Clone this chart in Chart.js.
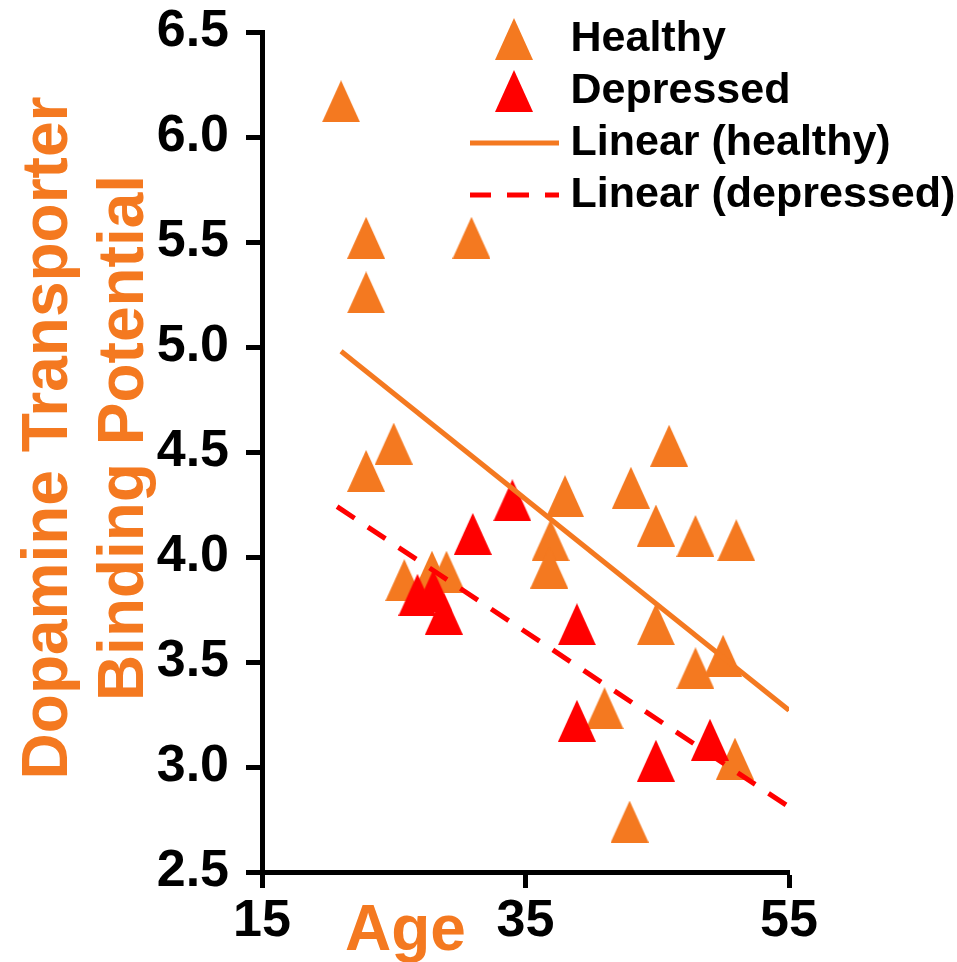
<!DOCTYPE html>
<html>
<head>
<meta charset="utf-8">
<script src="https://cdn.jsdelivr.net/npm/chart.js@4.4.1/dist/chart.umd.min.js"></script>
<style>
  html, body { margin: 0; padding: 0; background: #ffffff; }
  #wrap { width: 957px; height: 962px; }
</style>
</head>
<body>
<div id="wrap"><canvas id="c" width="957" height="962"></canvas></div>
<script>
// ---- data ----
const healthyAge = [21, 22.9, 22.9, 30.9, 25, 22.9, 38, 43, 45.9, 44.9, 47.9, 51, 36.9, 36.8, 25.8, 27.9, 29, 44.9, 47.9, 50, 41, 50.9, 42.9];
const healthyDAT = [6.17, 5.52, 5.26, 5.52, 4.54, 4.41, 4.29, 4.33, 4.53, 4.15, 4.10, 4.08, 4.08, 3.95, 3.89, 3.93, 3.93, 3.68, 3.47, 3.53, 3.28, 3.04, 2.74];
const depressedAge = [34, 31, 26.8, 28, 28.8, 38.9, 38.9, 49, 44.9];
const depressedDAT = [4.27, 4.11, 3.82, 3.84, 3.73, 3.68, 3.22, 3.13, 3.03];
const healthyTrendAge = [21, 55];
const healthyTrendDAT = [4.98, 3.27];
const depressedTrendAge = [20.7, 55];
const depressedTrendDAT = [4.24, 2.81];
const xTicks = [15, 35, 55];
const yTicks = [2.5, 3.0, 3.5, 4.0, 4.5, 5.0, 5.5, 6.0, 6.5];
const seriesLabels = ['Healthy', 'Depressed', 'Linear (healthy)', 'Linear (depressed)'];
const yTitleLines = ['Dopamine Transporter', 'Binding Potential'];
const xTitle = 'Age';

// ---- styles ----
const ORANGE = '#F47920';
const RED = '#FF0000';
const FONT = '"Liberation Sans", Arial, Helvetica, sans-serif';
Chart.defaults.font.family = FONT;

function triangleMarker(color) {
  const c = document.createElement('canvas');
  c.width = 38; c.height = 42;
  const g = c.getContext('2d');
  g.fillStyle = color;
  g.beginPath();
  g.moveTo(19, 0); g.lineTo(38, 42); g.lineTo(0, 42);
  g.closePath(); g.fill();
  return c;
}
function lineMarker(color, dash) {
  const c = document.createElement('canvas');
  c.width = 90; c.height = 6;
  const g = c.getContext('2d');
  g.strokeStyle = color; g.lineWidth = 5; g.lineCap = 'butt';
  g.setLineDash(dash);
  g.beginPath(); g.moveTo(0, 3); g.lineTo(90, 3); g.stroke();
  return c;
}
const pts = (xs, ys) => xs.map((x, i) => ({x: x, y: ys[i]}));

const titlesPlugin = {
  id: 'axisTitles',
  afterLayout(chart) {
    const lg = chart.legend;
    if (lg) {
      lg.left = chart.chartArea.left + 208;
      lg.top = 8.5;
      lg.right = chart.width;
      lg.bottom = chart.height;
    }
  },
  afterDraw(chart) {
    const ctx = chart.ctx;
    ctx.save();
    ctx.fillStyle = ORANGE;
    ctx.font = 'bold 64px ' + FONT;
    ctx.textBaseline = 'alphabetic';
    ctx.save();
    ctx.translate(67, 438);
    ctx.rotate(-Math.PI / 2);
    ctx.textAlign = 'center';
    yTitleLines.forEach((t, i) => ctx.fillText(t, 0, i * 76));
    ctx.restore();
    ctx.textAlign = 'left';
    ctx.fillText(xTitle, 345, 950);
    ctx.restore();
  }
};

new Chart(document.getElementById('c'), {
  type: 'scatter',
  data: {
    datasets: [
      { label: seriesLabels[0], data: pts(healthyAge, healthyDAT), pointStyle: triangleMarker(ORANGE),
        pointRadius: 20, backgroundColor: ORANGE, borderColor: ORANGE, order: 4 },
      { label: seriesLabels[1], data: pts(depressedAge, depressedDAT), pointStyle: triangleMarker(RED),
        pointRadius: 20, backgroundColor: RED, borderColor: RED, order: 3 },
      { type: 'line', label: seriesLabels[2], data: pts(healthyTrendAge, healthyTrendDAT), showLine: true,
        borderColor: ORANGE, borderWidth: 5, pointRadius: 0, pointStyle: lineMarker(ORANGE, []),
        fill: false, tension: 0, order: 2 },
      { type: 'line', label: seriesLabels[3], data: pts(depressedTrendAge, depressedTrendDAT), showLine: true,
        borderColor: RED, borderWidth: 5, borderDash: [21, 16], pointRadius: 0, pointStyle: lineMarker(RED, [22, 16]),
        fill: false, tension: 0, order: 1 }
    ]
  },
  options: {
    responsive: false,
    devicePixelRatio: 1,
    animation: false,
    events: [],
    layout: { padding: { top: 32, right: 168, bottom: 0, left: 0 } },
    plugins: {
      tooltip: { enabled: false },
      legend: {
        position: 'chartArea',
        fullSize: false,
        align: 'start',
        labels: {
          usePointStyle: true,
          pointStyleWidth: 70,
          padding: 9,
          color: '#000000',
          font: { size: 43, weight: 'bold' },
          sort: (a, b) => a.datasetIndex - b.datasetIndex
        }
      }
    },
    scales: {
      x: {
        type: 'linear', min: 15, max: 55,
        afterBuildTicks: (s) => { s.ticks = xTicks.map(v => ({value: v})); },
        afterFit: (s) => { s.height = 90; s.paddingLeft = 0; s.paddingRight = 0; },
        ticks: { color: '#000', font: { size: 52, weight: 'bold' }, padding: 2, maxRotation: 0 },
        grid: { display: true, drawOnChartArea: false, drawTicks: true, tickLength: 16, tickWidth: 5, tickColor: '#000' },
        border: { display: true, color: '#000', width: 5 }
      },
      y: {
        type: 'linear', min: 2.5, max: 6.5,
        afterBuildTicks: (s) => { s.ticks = yTicks.map(v => ({value: v})); },
        afterFit: (s) => { s.width = 262; s.paddingTop = 0; s.paddingBottom = 0; },
        ticks: { color: '#000', font: { size: 52, weight: 'bold' }, padding: 17,
                 callback: (v) => Number(v).toFixed(1) },
        grid: { display: true, drawOnChartArea: false, drawTicks: true, tickLength: 16, tickWidth: 5, tickColor: '#000' },
        border: { display: true, color: '#000', width: 5 }
      }
    }
  },
  plugins: [titlesPlugin]
});
</script>
</body>
</html>
